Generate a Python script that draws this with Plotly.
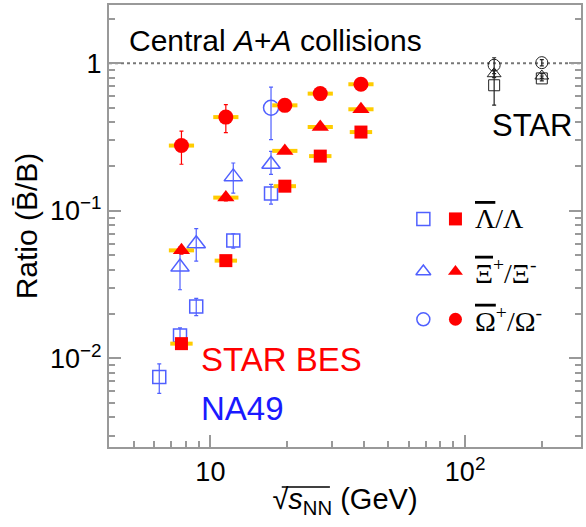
import plotly.graph_objects as go
import math

# ---------------- data ----------------
bes_e = [7.7, 11.5, 19.6, 27, 39]
bes_lambda = [0.0126, 0.046, 0.147, 0.235, 0.342]
bes_lambda_err = [0.0008, 0.002, 0.005, 0.007, 0.01]
bes_xi = [0.054, 0.123, 0.255, 0.370, 0.488]
bes_xi_err = [0.003, 0.006, 0.01, 0.012, 0.015]
bes_omega = [0.277, 0.432, 0.519, 0.623, 0.721]
bes_omega_err = [0.07, 0.093, 0.02, 0.02, 0.02]

na49_lambda_e = [6.3, 7.6, 8.8, 12.3, 17.3]
na49_lambda = [0.0075, 0.0143, 0.0225, 0.063, 0.131]
na49_lambda_err = [0.0017, 0.0018, 0.003, 0.007, 0.02]
na49_xi_e = [7.6, 8.8, 12.3, 17.3]
na49_xi = [0.0416, 0.0599, 0.170, 0.207]
na49_xi_err_plus = [0.0153, 0.0158, 0.041, 0.046]
na49_xi_err_minus = [0.0124, 0.0142, 0.038, 0.030]
na49_omega_e = [17.3]
na49_omega = [0.50]
na49_omega_err_plus = [0.19]
na49_omega_err_minus = [0.196]

star_e = [130, 200]
star_lambda = [0.71, 0.79]
star_lambda_err = [0.19, 0.03]
star_xi = [0.85, 0.82]
star_xi_err = [0.05, 0.03]
star_omega = [0.97, 1.01]
star_omega_err = [0.12, 0.05]

x_tickvals = [10, 100]
x_ticktext = ["10", "10<sup>2</sup>"]
x_minor = [5, 6, 7, 8, 9, 20, 30, 40, 50, 60, 70, 80, 90, 200]
y_tickvals = [0.01, 0.1, 1]
y_ticktext = ["10<sup>\u22122</sup>", "10<sup>\u22121</sup>", "1"]
y_minor = [0.003, 0.004, 0.005, 0.006, 0.007, 0.008, 0.009,
           0.02, 0.03, 0.04, 0.05, 0.06, 0.07, 0.08, 0.09,
           0.2, 0.3, 0.4, 0.5, 0.6, 0.7, 0.8, 0.9, 2]

legend_labels = ["<span style='text-decoration:overline'>\u039b</span>/\u039b",
                 "<span style='text-decoration:overline'>\u039e</span><sup>+</sup>/\u039e<sup>-</sup>",
                 "<span style='text-decoration:overline'>\u03a9</span><sup>+</sup>/\u03a9<sup>-</sup>"]
legend_symbols = ["square", "triangle-up", "circle"]
legend_y = [0.516, 0.397, 0.289]

BLUE = "#5060ff"
RED = "#ff0000"
YEL = "#ffcc00"

fig = go.Figure()

def add(x, y, sym, color, size, filled, err=None, errm=None, lw=1.5, syst=False):
    if syst:
        fig.add_trace(go.Scatter(x=x, y=y, mode="markers", showlegend=False, hoverinfo="skip",
                                 marker=dict(symbol="line-ew", size=size + 3, line=dict(color=YEL, width=4))))
    ed = None
    if err is not None:
        ed = dict(type="data", array=err, arrayminus=errm if errm is not None else err,
                  symmetric=errm is None, color=color, thickness=1.2, width=2)
    if filled:
        m = dict(symbol=sym, size=size, color=color, line=dict(width=0))
    else:
        m = dict(symbol=sym + "-open", size=size, color=color, line=dict(width=lw, color=color))
    fig.add_trace(go.Scatter(x=x, y=y, mode="markers", showlegend=False, error_y=ed, marker=m))

# NA49
add(na49_lambda_e, na49_lambda, "square", BLUE, 13, False, na49_lambda_err)
add(na49_xi_e, na49_xi, "triangle-up", BLUE, 16, False, na49_xi_err_plus, na49_xi_err_minus)
add(na49_omega_e, na49_omega, "circle", BLUE, 15, False, na49_omega_err_plus, na49_omega_err_minus)
# STAR
add(star_e, star_lambda, "square", "#222222", 11, False, star_lambda_err, lw=1)
add(star_e, star_xi, "triangle-up", "#222222", 12, False, star_xi_err, lw=1)
add(star_e, star_omega, "circle", "#222222", 12, False, star_omega_err, lw=1)
# STAR BES
add(bes_e, bes_lambda, "square", RED, 13, True, bes_lambda_err, syst=True)
add(bes_e, bes_xi, "triangle-up", RED, 15, True, bes_xi_err, syst=True)
add(bes_e, bes_omega, "circle", RED, 15, True, bes_omega_err, syst=True)

# legend keys on overlay axes
for i in range(3):
    fig.add_trace(go.Scatter(x=[0.666], y=[legend_y[i]], xaxis="x2", yaxis="y2", mode="markers",
                             showlegend=False, hoverinfo="skip",
                             marker=dict(symbol=legend_symbols[i] + "-open", size=13, color=BLUE,
                                         line=dict(color=BLUE, width=1.5))))
    fig.add_trace(go.Scatter(x=[0.734], y=[legend_y[i]], xaxis="x2", yaxis="y2", mode="markers",
                             showlegend=False, hoverinfo="skip",
                             marker=dict(symbol=legend_symbols[i], size=13, color=RED)))
    fig.add_annotation(x=0.772, y=legend_y[i], xref="paper", yref="paper", text=legend_labels[i],
                       showarrow=False, xanchor="left", yanchor="middle",
                       font=dict(family="Liberation Serif", size=28, color="black"))

AX = "#999999"
yrange = [-2.6, 0.395]
fig.update_layout(
    width=586, height=527, margin=dict(l=109, r=3, t=5, b=80),
    paper_bgcolor="white", plot_bgcolor="white",
    font=dict(family="Liberation Sans, Arial", color="black"),
    xaxis=dict(type="log", range=[math.log10(4.0), math.log10(285)],
               tickvals=x_tickvals, ticktext=x_ticktext, ticks="inside", ticklen=12,
               tickcolor=AX, tickwidth=1.5, showline=True, linecolor=AX, linewidth=2,
               mirror=True, showgrid=False, zeroline=False,
               tickfont=dict(size=27),
               minor=dict(ticks="inside", ticklen=6, tickcolor=AX, tickwidth=1.5,
                          tickvals=x_minor, showgrid=False),
               title=dict(text="\u221a<i>s</i><sub>NN</sub> (GeV)",
                          font=dict(size=29), standoff=2)),
    yaxis=dict(type="log", range=yrange,
               tickvals=y_tickvals, ticktext=y_ticktext, ticks="inside", ticklen=12,
               tickcolor=AX, tickwidth=1.5, showline=True, linecolor=AX, linewidth=2,
               mirror=True, showgrid=False, zeroline=False,
               tickfont=dict(size=27),
               minor=dict(ticks="inside", ticklen=6, tickcolor=AX, tickwidth=1.5,
                          tickvals=y_minor, showgrid=False),
               title=dict(text="Ratio (B\u0304/B)", font=dict(size=30), standoff=4)),
    yaxis3=dict(type="log", range=yrange, overlaying="y", side="right", anchor="x",
                tickvals=y_tickvals, ticktext=["", "", ""], showticklabels=False,
                ticks="inside", ticklen=12, tickcolor=AX, tickwidth=1.5,
                showline=False, showgrid=False, zeroline=False,
                minor=dict(ticks="inside", ticklen=6, tickcolor=AX, tickwidth=1.5,
                           tickvals=y_minor, showgrid=False)),
    xaxis2=dict(overlaying="x", range=[0, 1], visible=False),
    yaxis2=dict(overlaying="y", range=[0, 1], visible=False),
)

# dummy invisible trace so the right-side tick axis is drawn
fig.add_trace(go.Scatter(x=[star_e[0]], y=[star_omega[0]], yaxis="y3", mode="markers",
                         marker=dict(opacity=0), showlegend=False, hoverinfo="skip"))

fig.add_shape(type="line", xref="paper", yref="y", x0=0, x1=1, y0=1, y1=1,
              line=dict(color="#777777", width=2, dash="dot"), layer="below")
# square-root vinculum over s_NN in the axis title
fig.add_shape(type="line", xref="paper", yref="paper", x0=0.366, x1=0.468, y0=-0.0905, y1=-0.0905,
              line=dict(color="black", width=1.5))

fig.add_annotation(x=0.039, y=0.92, xref="paper", yref="paper",
                   text="Central <i>A</i>+<i>A</i> collisions", showarrow=False,
                   xanchor="left", yanchor="middle", font=dict(size=30, color="black"))
fig.add_annotation(x=0.985, y=0.728, xref="paper", yref="paper", text="STAR", showarrow=False,
                   xanchor="right", yanchor="middle", font=dict(size=31, color="black"))
fig.add_annotation(x=0.19, y=0.198, xref="paper", yref="paper", text="STAR BES", showarrow=False,
                   xanchor="left", yanchor="middle", font=dict(size=33, color=RED))
fig.add_annotation(x=0.19, y=0.088, xref="paper", yref="paper", text="NA49", showarrow=False,
                   xanchor="left", yanchor="middle", font=dict(size=33, color="#1a1aff"))

fig.write_html("out.html")
